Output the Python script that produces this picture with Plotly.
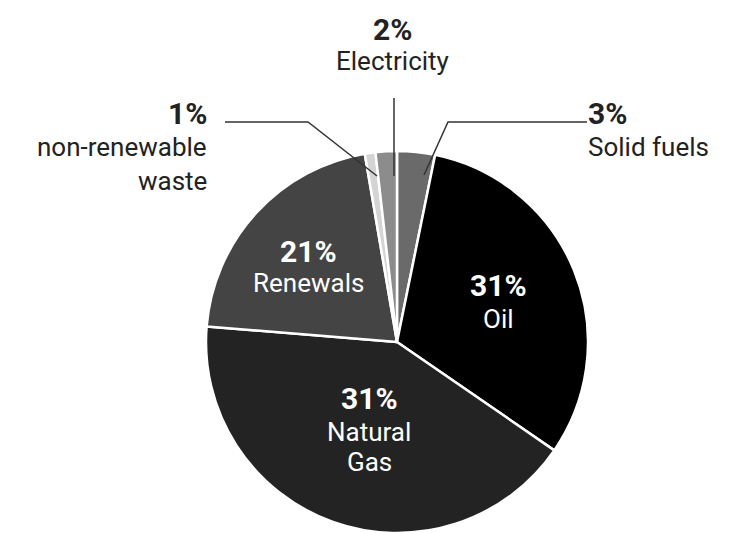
import plotly.graph_objects as go

# Data (clockwise from 12 o'clock), slice sizes
categories = ["Solid fuels", "Oil", "Natural Gas", "Renewals", "non-renewable waste", "Electricity"]
slice_values = [3.2, 31.4, 41.7, 21.0, 0.9, 1.8]
pct_labels = ["3%", "31%", "31%", "21%", "1%", "2%"]
name_labels = [["Solid fuels"], ["Oil"], ["Natural", "Gas"], ["Renewals"],
               ["non-renewable", "waste"], ["Electricity"]]
colors = ["#6a6a6a", "#000000", "#232323", "#444444", "#d4d4d4", "#8c8c8c"]

W, H = 744, 533
FONT = "Roboto"
Y_SHIFT = -9  # text box centre vs glyph centre correction

fig = go.Figure(go.Pie(
    labels=categories,
    values=slice_values,
    sort=False,
    direction="clockwise",
    rotation=0,
    marker=dict(colors=colors, line=dict(color="white", width=2.5)),
    textinfo="none",
    hoverinfo="label+value",
    showlegend=False,
    domain=dict(x=[198 / W, 580 / W], y=[8 / H, 390 / H]),
))

def px(x):
    return x / W

def py(y):
    return 1 - y / H

annotations = []

def add_label(i, x, y, anchor, color, first_dy=33, dy=31):
    y = y + Y_SHIFT
    annotations.append(dict(x=px(x), y=py(y), xref="paper", yref="paper",
                            text="<b>" + pct_labels[i] + "</b>", showarrow=False,
                            xanchor=anchor, yanchor="middle",
                            font=dict(family=FONT, size=30, color=color)))
    for k, line in enumerate(name_labels[i]):
        annotations.append(dict(x=px(x), y=py(y + first_dy + k * dy), xref="paper", yref="paper",
                                text=line, showarrow=False,
                                xanchor=anchor, yanchor="middle",
                                font=dict(family=FONT, size=26, color=color)))

# outside labels
add_label(0, 578, 114, "left", "#222222", first_dy=34)
add_label(4, 201, 114, "right", "#222222", first_dy=34, dy=34)
add_label(5, 384, 30, "center", "#222222", first_dy=32)
# inside labels
add_label(1, 490, 286, "center", "white", first_dy=34)
add_label(2, 361, 399, "center", "white", first_dy=34, dy=30)
add_label(3, 300, 252, "center", "white", first_dy=32)

line_style = dict(color="#333333", width=1.5)
shapes = [
    # Solid fuels leader
    dict(type="path", xref="paper", yref="paper",
         path=f"M {px(416)},{py(167)} L {px(440)},{py(114)} L {px(579)},{py(114)}",
         line=line_style),
    # Electricity leader
    dict(type="line", xref="paper", yref="paper",
         x0=px(386), y0=py(168), x1=px(386), y1=py(90), line=line_style),
    # waste leader
    dict(type="path", xref="paper", yref="paper",
         path=f"M {px(369)},{py(168)} L {px(300)},{py(114)} L {px(217)},{py(114)}",
         line=line_style),
]

fig.update_layout(
    width=W, height=H,
    margin=dict(l=0, r=0, t=0, b=0),
    paper_bgcolor="white",
    plot_bgcolor="white",
    annotations=annotations,
    shapes=shapes,
)

fig.write_html("out.html")
